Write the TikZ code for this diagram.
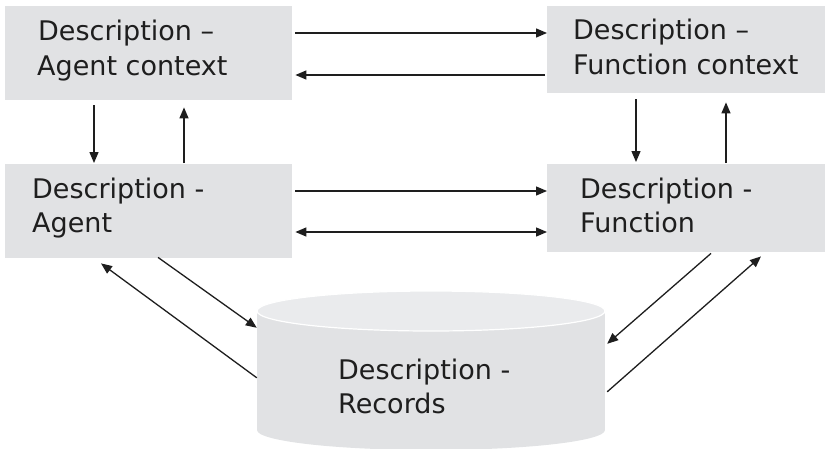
\documentclass[tikz,border=0pt]{standalone}
\usepackage{fontspec}
\setmainfont{DejaVu Sans}
\usetikzlibrary{arrows.meta,calc}
\definecolor{boxgray}{RGB}{225,226,228}
\definecolor{capgray}{RGB}{234,235,237}
\definecolor{ink}{RGB}{30,30,30}
\tikzset{
  panel/.style={fill=boxgray, draw=none, inner sep=0pt, anchor=north west},
  label/.style={anchor=base west, inner sep=0pt, text=ink,
    font=\fontsize{27}{34}\selectfont},
  link/.style={draw=ink, line width=1.3pt,
    -{Triangle[length=11pt,width=9pt]}},
  link2/.style={draw=ink, line width=1.3pt,
    {Triangle[length=11pt,width=9pt]}-{Triangle[length=11pt,width=9pt]}},
}
\begin{document}
\begin{tikzpicture}[x=1pt,y=-1pt]
\useasboundingbox (0,0) rectangle (825,448);

% four description panels
\node[panel, minimum width=287pt, minimum height=94pt] (ac) at (5,6) {};
\node[panel, minimum width=278pt, minimum height=87pt] (fc) at (547,6) {};
\node[panel, minimum width=287pt, minimum height=94pt] (ag) at (5,164) {};
\node[panel, minimum width=278pt, minimum height=88pt] (fn) at (547,164) {};

% records store drawn as a cylinder
\node[inner sep=0pt, minimum width=348pt, minimum height=159pt] (rec) at (431,370.5) {};
\fill[boxgray] (257,311) rectangle (605,430);
\fill[boxgray] (431,430) ellipse [x radius=174, y radius=20];
\filldraw[fill=capgray, draw=white, line width=1.2pt] (431,311) ellipse [x radius=174, y radius=20];

% texts
\node[label] (t1) at (38,40) {Description –};
\node[label] (t2) at (37,75) {Agent context};
\node[label] (t3) at (573,39) {Description –};
\node[label] (t4) at (573,74) {Function context};
\node[label] (t5) at (32,198) {Description -};
\node[label] (t6) at (32,232) {Agent};
\node[label] (t7) at (580,198) {Description -};
\node[label] (t8) at (580,232) {Function};
\node[label] (t9) at (338,379) {Description -};
\node[label] (t10) at (338,413) {Records};

% context panels
\draw[link] ($(ac.north east)+(3,27)$) -- ($(fc.north west)+(0,27)$);
\draw[link] ($(fc.north west)+(-2,69)$) -- ($(ac.north east)+(3,69)$);
% description panels
\draw[link] ($(ag.north east)+(3,27)$) -- ($(fn.north west)+(0,27)$);
\draw[link2] ($(ag.north east)+(3,68)$) -- ($(fn.north west)+(0,68)$);
% context to description
\draw[link] ($(ac.south west)+(89,5)$) -- ($(ag.north west)+(89,-1)$);
\draw[link] ($(ag.north west)+(179,-1)$) -- ($(ac.south west)+(179,7)$);
\draw[link] ($(fc.south west)+(89,6)$) -- ($(fn.north west)+(89,-2)$);
\draw[link] ($(fn.north west)+(179,-1)$) -- ($(fc.south west)+(179,9)$);
% links with the records store
\draw[link] ($(ag.south west)+(153,-1)$) -- ($(rec.north west)+(0,37)$);
\draw[link] ($(rec.north west)+(0,87)$) -- ($(ag.south west)+(96,5)$);
\draw[link] ($(fn.south west)+(164,1)$) -- ($(rec.north east)+(2,53)$);
\draw[link] ($(rec.north east)+(2,101)$) -- ($(fn.south west)+(214,4)$);
\end{tikzpicture}
\end{document}
